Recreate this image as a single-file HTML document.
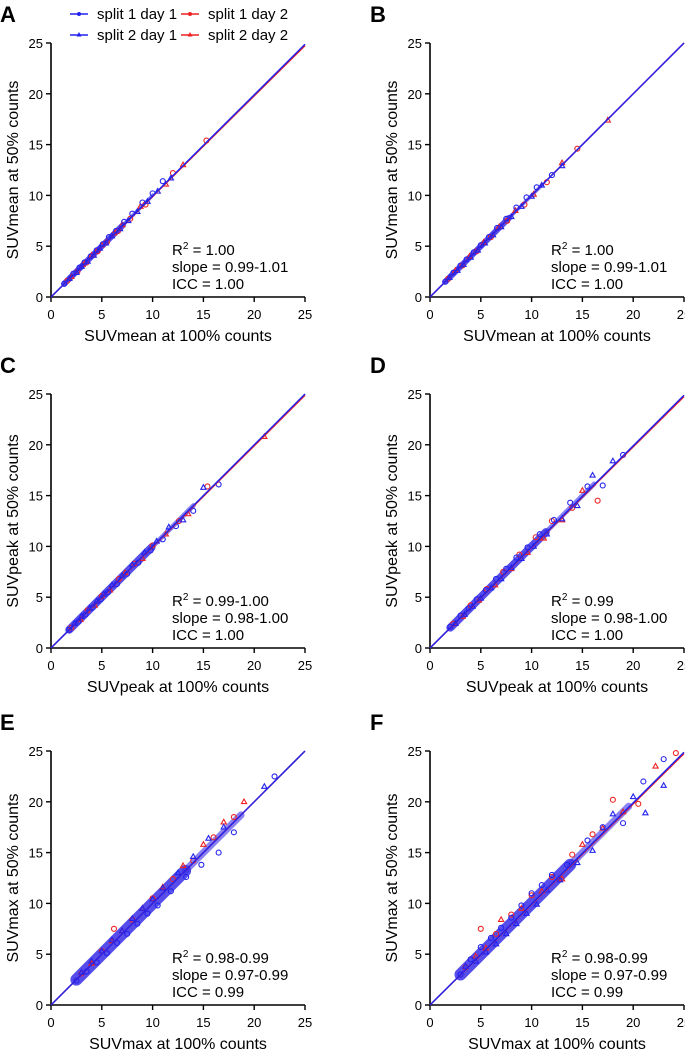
<!DOCTYPE html>
<html><head><meta charset="utf-8">
<style>
html,body{margin:0;padding:0;background:#fff;}
svg{display:block;font-family:"Liberation Sans",Arial,sans-serif;}
</style></head>
<body>
<svg id="fig" width="685" height="1051" xmlns="http://www.w3.org/2000/svg">
  <g font-size="15">
    <g>
      <line x1="70" y1="14" x2="88" y2="14" stroke="#2222ee" stroke-width="1.5"/><circle cx="79" cy="14" r="2" fill="#2222ee"/>
      <text x="97" y="19">split 1 day 1</text></g>
    <g>
      <line x1="181" y1="14" x2="199" y2="14" stroke="#ee2222" stroke-width="1.5"/><circle cx="190" cy="14" r="2" fill="#ee2222"/>
      <text x="208" y="19">split 1 day 2</text></g>
    <g>
      <line x1="70" y1="35" x2="88" y2="35" stroke="#2222ee" stroke-width="1.5"/><polygon points="79,32 81.5,36.5 76.5,36.5" fill="#2222ee"/>
      <text x="97" y="40">split 2 day 1</text></g>
    <g>
      <line x1="181" y1="35" x2="199" y2="35" stroke="#ee2222" stroke-width="1.5"/><polygon points="190,32 192.5,36.5 187.5,36.5" fill="#ee2222"/>
      <text x="208" y="40">split 2 day 2</text></g>
  </g>
</svg>
<script>
const panelLetters=["A","B","C","D","E","F"];
const xTitles=["SUVmean at 100% counts","SUVmean at 100% counts","SUVpeak at 100% counts","SUVpeak at 100% counts","SUVmax at 100% counts","SUVmax at 100% counts"];
const yTitles=["SUVmean at 50% counts","SUVmean at 50% counts","SUVpeak at 50% counts","SUVpeak at 50% counts","SUVmax at 50% counts","SUVmax at 50% counts"];
const r2Text=["1.00","1.00","0.99-1.00","0.99","0.98-0.99","0.98-0.99"];
const slopeText=["0.99-1.01","0.99-1.01","0.98-1.00","0.98-1.00","0.97-0.99","0.97-0.99"];
const iccText=["1.00","1.00","1.00","1.00","0.99","0.99"];
const ticks=[0,5,10,15,20,25];
const blueX=[
[1.3,1.8,2.2,2.5,2.8,3.0,3.3,3.6,3.9,4.2,4.5,4.8,5.1,5.4,5.7,6.0,6.4,6.8,7.2,7.6,8.0,8.5,9.0,9.5,10.0,10.5,11.0,11.8],
[1.5,1.9,2.3,2.7,3.0,3.3,3.6,4.0,4.3,4.7,5.0,5.4,5.8,6.2,6.6,7.0,7.5,8.0,8.5,9.0,9.5,10.0,10.5,11.0,12.0,13.0],
[1.8,2.3,2.7,3.0,3.4,3.8,4.1,4.5,4.9,5.2,5.6,6.0,6.5,7.0,7.5,8.0,8.6,9.2,9.8,10.4,11.0,11.6,12.3,13.0,14.0,15.0,16.5],
[2.0,2.5,3.0,3.4,3.8,4.2,4.6,5.0,5.5,6.0,6.5,7.0,7.5,8.0,8.5,9.0,9.6,10.2,10.8,11.5,12.2,13.0,13.8,14.5,15.5,16.0,17.0,18.0,19.0],
[2.5,3.0,3.5,4.0,4.5,5.0,5.5,6.0,6.5,7.0,7.5,8.0,8.5,9.0,9.5,10.0,10.5,11.0,11.8,12.5,13.3,14.0,14.8,15.5,16.5,17.0,18.0,21.0,22.0],
[3.0,3.5,4.0,4.5,5.0,5.5,6.0,6.5,7.0,7.5,8.0,8.5,9.0,9.5,10.0,10.5,11.0,11.5,12.0,12.8,13.5,14.5,15.5,16.0,17.0,18.0,19.0,20.0,21.0,21.2,23.0,23.0]];
const blueY=[
[1.3,1.8,2.3,2.4,2.9,3.0,3.4,3.5,4.0,4.1,4.6,4.8,5.2,5.3,5.9,6.0,6.5,6.7,7.4,7.5,8.2,8.4,9.3,9.4,10.2,10.4,11.4,11.7],
[1.5,1.9,2.4,2.6,3.1,3.2,3.7,3.9,4.4,4.6,5.1,5.3,5.9,6.1,6.8,6.9,7.7,7.9,8.8,8.9,9.8,9.9,10.8,11.0,12.0,12.9],
[1.8,2.4,2.6,3.1,3.3,3.9,4.0,4.6,4.8,5.3,5.5,6.2,6.3,7.1,7.3,8.2,8.4,9.4,9.6,10.5,10.7,11.9,12.0,12.6,13.5,15.8,16.1],
[2.1,2.4,3.2,3.3,3.9,4.1,4.8,4.9,5.7,5.9,6.8,6.8,7.8,7.9,8.9,8.8,9.9,10.0,11.2,11.2,12.6,12.7,14.3,14.0,15.9,17.0,16.0,18.4,19.0],
[2.4,3.2,3.3,4.3,4.2,5.3,5.1,6.4,6.1,7.3,7.0,8.5,8.0,9.5,9.0,10.4,9.8,11.5,11.2,13.0,12.6,14.6,13.8,16.4,15.0,17.5,17.0,21.5,22.5],
[3.0,3.8,4.5,4.3,5.7,5.2,6.6,6.0,7.6,7.0,8.6,8.0,9.8,9.0,11.0,9.9,11.8,11.3,12.8,12.3,13.8,14.0,16.2,15.2,17.5,18.8,17.9,20.5,22.0,18.9,24.2,21.6]];
const redX=[
[1.6,2.0,2.6,3.1,3.5,4.0,4.6,5.0,5.5,6.2,6.6,7.0,7.8,8.8,9.3,11.3,12.0,13.0,15.3],
[1.8,2.5,3.2,3.9,4.6,5.3,6.0,6.8,7.6,8.4,9.3,10.2,11.5,13.0,14.5,17.5],
[2.0,2.9,3.6,4.3,5.0,5.8,6.7,7.3,8.2,9.0,10.0,11.3,12.6,13.5,15.4,21.0],
[2.3,3.2,4.0,4.8,5.6,6.4,7.2,8.0,8.8,9.6,10.4,11.2,12.0,13.0,14.0,15.0,16.5],
[3.0,4.0,5.0,6.0,6.2,7.0,8.0,9.0,10.0,11.0,12.0,13.0,14.0,15.0,16.0,17.0,18.0,19.0],
[3.5,4.5,5.0,5.5,6.5,7.0,8.0,9.0,10.0,11.0,12.0,13.0,14.0,15.0,16.0,17.0,18.0,19.0,20.5,22.2,24.2]];
const redY=[
[1.6,2.0,2.5,3.2,3.4,4.1,4.5,5.1,5.4,6.3,6.5,7.1,7.7,8.9,9.1,11.1,12.2,13.0,15.4],
[1.8,2.6,3.1,4.0,4.5,5.4,5.9,6.9,7.5,8.5,9.1,10.1,11.3,13.2,14.6,17.4],
[2.0,2.8,3.7,4.2,5.1,5.7,6.8,7.4,8.3,8.8,10.1,11.2,12.5,13.2,15.9,20.8],
[2.4,3.1,4.2,4.7,5.8,6.2,7.5,7.8,9.2,9.4,10.9,10.8,12.5,12.6,13.8,15.5,14.5],
[3.1,4.1,5.3,6.3,7.5,7.3,8.4,9.5,10.5,11.6,12.4,13.7,14.2,15.8,16.5,18.0,18.5,20.0],
[3.7,4.8,7.5,5.6,7.0,8.4,8.9,9.5,10.8,11.2,12.6,12.4,14.8,15.8,16.8,17.4,20.2,19.0,19.8,23.5,24.8]];
const blueSlope=[0.995,1.0,1.0,0.995,1.0,0.995];
const redSlope=[0.99,1.0,0.995,0.99,1.0,0.99];

const NS="http://www.w3.org/2000/svg";
const svg=document.getElementById('fig');
const origins=[[51,297],[430,297],[51,648],[430,648],[51,1005],[430,1005]];
const L=254;
function mk(tag,attrs,parent){const e=document.createElementNS(NS,tag);for(const k in attrs)e.setAttribute(k,attrs[k]);parent.appendChild(e);return e;}
for(let p=0;p<6;p++){
  const [x0,y0]=origins[p];
  const sx=v=>x0+v/25*L, sy=v=>y0-v/25*L;
  const g=mk('g',{},svg);
  
  
  const lt=mk('text',{x:p%2?370:0,y:y0-275,'font-size':22,'font-weight':'bold'},g);
  lt.textContent=panelLetters[p];
  
  
  const ax=mk('path',{d:`M${x0},${y0-L} V${y0} H${x0+L}`,fill:'none',stroke:'#000','stroke-width':1.6},g);
  
  
  ticks.forEach(t=>{
    mk('line',{x1:sx(t),x2:sx(t),y1:y0,y2:y0+5,stroke:'#000','stroke-width':1.4},g);
    mk('line',{x1:x0-5,x2:x0,y1:sy(t),y2:sy(t),stroke:'#000','stroke-width':1.4},g);
    const tx=mk('text',{x:sx(t),y:y0+22,'font-size':13,'text-anchor':'middle'},g);tx.textContent=t;
    
    
    const ty=mk('text',{x:x0-8,y:sy(t)+5,'font-size':13,'text-anchor':'end'},g);ty.textContent=t;
    
    
  });
  const xt=mk('text',{x:x0+L/2,y:y0+44,'font-size':16,'text-anchor':'middle'},g);xt.textContent=xTitles[p];
  
  
  const yt=mk('text',{x:0,y:0,'font-size':16,'text-anchor':'middle',transform:`translate(${x0-33},${y0-L/2}) rotate(-90)`},g);yt.textContent=yTitles[p];
  
  
  const allX=blueX[p].concat(redX[p]);
  const mn=Math.min(...allX), mx=Math.max(...blueX[p]);
  const bw=p<2?6:(p<4?8:12);
  const band=mk('line',{x1:sx(mn),y1:sy(mn),x2:sx(mx*0.6),y2:sy(mx*0.6),stroke:'#3a2ee6','stroke-width':bw,'stroke-linecap':'round','stroke-opacity':0.85},g);
  
  
  const band2=mk('line',{x1:sx(mx*0.6),y1:sy(mx*0.6),x2:sx(mx*0.85),y2:sy(mx*0.85),stroke:'#3a2ee6','stroke-width':bw*0.6,'stroke-linecap':'round','stroke-opacity':0.6},g);
  
  
  function drawSeries(xs,ys,col,name){
    xs.forEach((xv,i)=>{
      const cx=sx(xv),cy=sy(ys[i]);let m;
      if(i%2===0) m=mk('circle',{cx:cx,cy:cy,r:2.5,fill:'none',stroke:col,'stroke-width':1.1},g);
      else m=mk('polygon',{points:`${cx},${cy-2.8} ${cx+2.6},${cy+1.8} ${cx-2.6},${cy+1.8}`,fill:'none',stroke:col,'stroke-width':1.1},g);
      
      
    });
  }
  drawSeries(redX[p],redY[p],'#ee2222','point-day2');
  drawSeries(blueX[p],blueY[p],'#2222ee','point-day1');
  const rl=mk('line',{x1:sx(0),y1:sy(0),x2:sx(25),y2:sy(25*redSlope[p]),stroke:'#ee2222','stroke-width':1.5},g);
  
  
  const bl=mk('line',{x1:sx(0),y1:sy(0),x2:sx(25),y2:sy(25*blueSlope[p]),stroke:'#2222ee','stroke-width':1.5},g);
  
  
  const tg=mk('g',{'font-size':15},g);
  
  
  const ax0=x0+121;
  const t1=mk('text',{x:ax0,y:y0-42},tg);
  t1.innerHTML='R<tspan dy="-6" font-size="10">2</tspan><tspan dy="6"> = '+r2Text[p]+'</tspan>';
  const t2=mk('text',{x:ax0,y:y0-25},tg);t2.textContent='slope = '+slopeText[p];
  const t3=mk('text',{x:ax0,y:y0-8},tg);t3.textContent='ICC = '+iccText[p];
}
</script>
</body></html>
